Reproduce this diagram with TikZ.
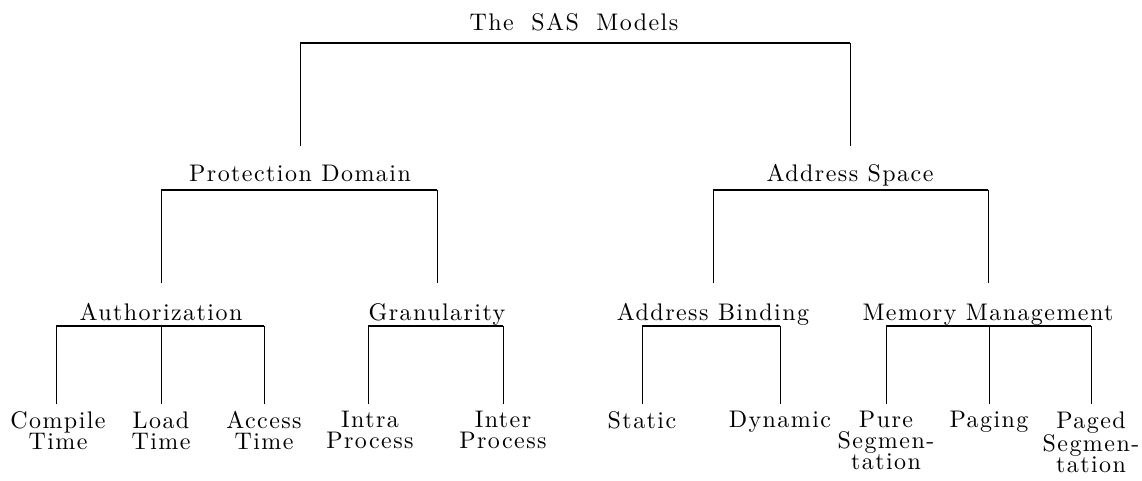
\documentclass[tikz,border=0pt]{standalone}
\usepackage{fontspec}
\newfontfamily\lblfont{lmroman10-regular.otf}[LetterSpace=6]
\begin{document}
\begin{tikzpicture}[x=0.5pt,y=-0.5pt,
  lbl/.style={font=\lblfont\fontsize{12}{10.5}\selectfont, inner sep=0pt, align=center},
  bar/.style={line width=0.75pt},
  stem/.style={line width=0.5pt}]
\useasboundingbox (0,0) rectangle (1142,481);
% labels
\node[lbl,anchor=base] (sas) at (574,31) {The\hspace{4pt} SAS\hspace{4pt} Models};
\node[lbl,anchor=base] (pd) at (300,182) {Protection Domain};
\node[lbl,anchor=base] (as) at (850,182) {Address Space};
\node[lbl,anchor=base] (auth) at (161,321) {Authorization};
\node[lbl,anchor=base] (gran) at (437,321) {Granularity};
\node[lbl,anchor=base] (ab) at (713,321) {Address Binding};
\node[lbl,anchor=base] (mm) at (988,321) {Memory Management};
\node[lbl,anchor=north] (ct) at (58,411) {Compile\\Time};
\node[lbl,anchor=north] (lt) at (161,411) {Load\\Time};
\node[lbl,anchor=north] (at) at (264,411) {Access\\Time};
\node[lbl,anchor=north] (ip) at (370,411) {Intra\\Process};
\node[lbl,anchor=north] (ep) at (503,411) {Inter\\Process};
\node[lbl,anchor=north] (st) at (642,411) {Static};
\node[lbl,anchor=north] (dy) at (780,411) {Dynamic};
\node[lbl,anchor=north] (ps) at (886,411) {Pure\\Segmen-\\tation};
\node[lbl,anchor=north] (pg) at (989,411) {Paging};
\node[lbl,anchor=north] (pgs) at (1091,411) {Paged\\Segmen-\\tation};
% bar levels and stem ends
\coordinate (b0) at (0,43);
\coordinate (b1) at (0,190);
\coordinate (b2) at (0,326);
\coordinate (e1) at (0,146);
\coordinate (e2) at (0,283);
\coordinate (e3) at (0,404);
% level 1
\draw[bar] (pd |- b0) -- (as |- b0);
\draw[stem] (pd |- b0) -- (pd |- e1);
\draw[stem] (as |- b0) -- (as |- e1);
% level 2
\draw[bar] (auth |- b1) -- (gran |- b1);
\draw[stem] (auth |- b1) -- (auth |- e2);
\draw[stem] (gran |- b1) -- (gran |- e2);
\draw[bar] (ab |- b1) -- (mm |- b1);
\draw[stem] (ab |- b1) -- (ab |- e2);
\draw[stem] (mm |- b1) -- (mm |- e2);
% level 3
\draw[bar] ([xshift=-1pt]ct |- b2) -- (at |- b2);
\draw[stem] ([xshift=-1pt]ct |- b2) -- ([xshift=-1pt]ct |- e3);
\draw[stem] (lt |- b2) -- (lt |- e3);
\draw[stem] (at |- b2) -- (at |- e3);
\draw[bar] ([xshift=-1pt]ip |- b2) -- (ep |- b2);
\draw[stem] ([xshift=-1pt]ip |- b2) -- ([xshift=-1pt]ip |- e3);
\draw[stem] (ep |- b2) -- (ep |- e3);
\draw[bar] (st |- b2) -- (dy |- b2);
\draw[stem] (st |- b2) -- (st |- e3);
\draw[stem] (dy |- b2) -- (dy |- e3);
\draw[bar] (ps |- b2) -- (pgs |- b2);
\draw[stem] (ps |- b2) -- (ps |- e3);
\draw[stem] (pg |- b2) -- (pg |- e3);
\draw[stem] (pgs |- b2) -- (pgs |- e3);
\end{tikzpicture}
\end{document}
